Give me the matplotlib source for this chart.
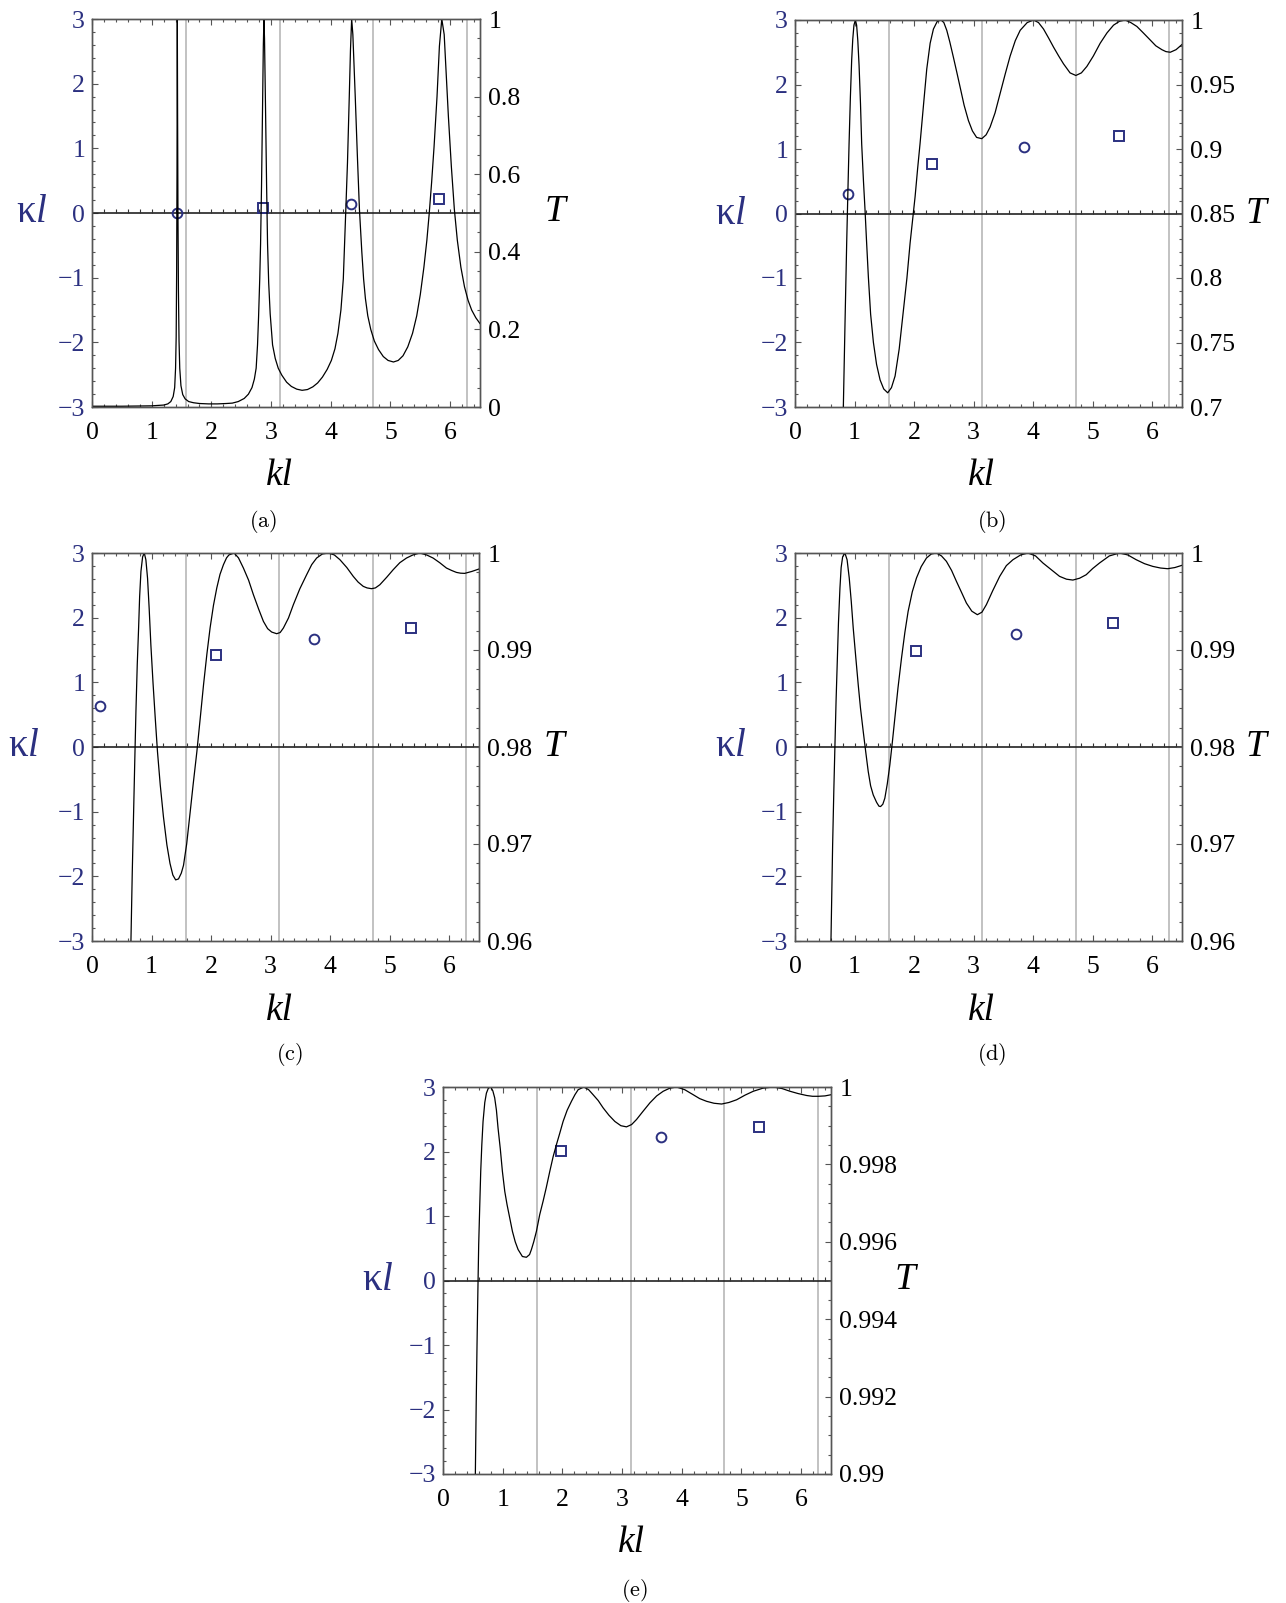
import numpy as np
import matplotlib
matplotlib.use('Agg')
import matplotlib.pyplot as plt
from matplotlib.ticker import MultipleLocator, FixedLocator, FixedFormatter

# transmission curves T(kl), one per panel
kl_a = [0.0, 0.5, 1.0, 1.1, 1.2, 1.27, 1.32, 1.36, 1.385, 1.40, 1.41, 1.418, 1.424, 1.429, 1.434,
        1.44, 1.448, 1.458, 1.47, 1.49, 1.52, 1.56, 1.62, 1.70, 1.80, 1.95, 2.1, 2.25, 2.35,
        2.45, 2.55, 2.62, 2.68, 2.72, 2.75, 2.773, 2.79, 2.81, 2.824, 2.84, 2.857, 2.87, 2.88,
        2.89, 2.907, 2.925, 2.941, 2.96, 2.985, 3.025, 3.07, 3.12, 3.18, 3.26, 3.34, 3.43, 3.52,
        3.61, 3.70, 3.78, 3.86, 3.94, 4.01, 4.07, 4.12, 4.17, 4.21, 4.25, 4.28, 4.31, 4.33, 4.35,
        4.37, 4.39, 4.41, 4.445, 4.48, 4.52, 4.55, 4.58, 4.62, 4.67, 4.73, 4.80, 4.88, 4.96, 5.05,
        5.13, 5.21, 5.29, 5.37, 5.44, 5.50, 5.56, 5.61, 5.65, 5.69, 5.73, 5.78, 5.82, 5.86, 5.90,
        5.93, 5.97, 6.02, 6.07, 6.12, 6.18, 6.24, 6.30, 6.36, 6.43, 6.5]
T_a = [0.002, 0.002, 0.003, 0.004, 0.005, 0.008, 0.014, 0.027, 0.05, 0.10, 0.18, 0.35, 0.6, 1.0,
       0.75, 0.5, 0.3, 0.17, 0.10, 0.055, 0.032, 0.021, 0.014, 0.011, 0.009, 0.008, 0.008, 0.009,
       0.010, 0.014, 0.022, 0.033, 0.05, 0.072, 0.10, 0.16, 0.23, 0.33, 0.42, 0.57, 0.77, 0.93,
       1.0, 0.95, 0.77, 0.57, 0.42, 0.32, 0.24, 0.16, 0.125, 0.10, 0.082, 0.064, 0.053, 0.046,
       0.043, 0.045, 0.052, 0.062, 0.077, 0.097, 0.12, 0.15, 0.19, 0.25, 0.33, 0.50, 0.63, 0.80,
       0.92, 1.0, 0.96, 0.88, 0.80, 0.65, 0.51, 0.40, 0.33, 0.28, 0.235, 0.20, 0.17, 0.148, 0.13,
       0.12, 0.116, 0.12, 0.132, 0.155, 0.19, 0.235, 0.29, 0.36, 0.43, 0.50, 0.58, 0.67, 0.80,
       0.93, 1.0, 0.96, 0.87, 0.75, 0.62, 0.51, 0.43, 0.36, 0.31, 0.275, 0.25, 0.23, 0.215]

kl_b = [0.76, 0.812, 0.84, 0.868, 0.89, 0.908, 0.93, 0.952, 0.97, 0.99, 1.014, 1.035, 1.055,
        1.076, 1.10, 1.12, 1.15, 1.176, 1.20, 1.232, 1.27, 1.317, 1.37, 1.429, 1.49, 1.557, 1.62,
        1.681, 1.75, 1.821, 1.88, 1.933, 1.975, 2.017, 2.06, 2.10, 2.16, 2.213, 2.27, 2.325,
        2.39, 2.454, 2.50, 2.549, 2.60, 2.661, 2.72, 2.773, 2.84, 2.913, 2.98, 3.05, 3.137, 3.21,
        3.277, 3.36, 3.445, 3.53, 3.613, 3.70, 3.782, 3.90, 4.006, 4.09, 4.174, 4.26, 4.342,
        4.43, 4.51, 4.62, 4.717, 4.81, 4.902, 5.01, 5.126, 5.24, 5.35, 5.45, 5.546, 5.64, 5.742,
        5.85, 5.966, 6.06, 6.162, 6.23, 6.303, 6.40, 6.5]
T_b = [0.60, 0.70, 0.765, 0.827, 0.87, 0.904, 0.94, 0.969, 0.985, 0.996, 1.0, 0.996, 0.984,
       0.965, 0.935, 0.904, 0.875, 0.853, 0.83, 0.801, 0.772, 0.750, 0.733, 0.721, 0.714, 0.711,
       0.715, 0.724, 0.745, 0.775, 0.80, 0.827, 0.845, 0.863, 0.885, 0.904, 0.935, 0.962, 0.982,
       0.993, 0.999, 1.0, 0.998, 0.992, 0.983, 0.971, 0.959, 0.948, 0.934, 0.922, 0.914, 0.909,
       0.908, 0.911, 0.917, 0.928, 0.943, 0.958, 0.972, 0.984, 0.992, 0.998, 1.0, 0.998, 0.993,
       0.986, 0.979, 0.972, 0.966, 0.959, 0.957, 0.959, 0.964, 0.972, 0.982, 0.990, 0.996, 0.999,
       1.0, 0.998, 0.995, 0.990, 0.9845, 0.980, 0.977, 0.9755, 0.975, 0.977, 0.981]

kl_c = [0.62, 0.654, 0.676, 0.699, 0.72, 0.738, 0.76, 0.783, 0.80, 0.822, 0.85, 0.878, 0.905,
        0.933, 0.96, 0.989, 1.025, 1.062, 1.10, 1.146, 1.20, 1.258, 1.31, 1.358, 1.405, 1.453,
        1.50, 1.537, 1.59, 1.649, 1.70, 1.761, 1.82, 1.873, 1.93, 1.984, 2.04, 2.096, 2.15, 2.208,
        2.26, 2.30, 2.387, 2.46, 2.543, 2.63, 2.711, 2.80, 2.879, 2.95, 3.018, 3.102, 3.16,
        3.214, 3.30, 3.382, 3.49, 3.605, 3.69, 3.773, 3.87, 3.969, 4.07, 4.164, 4.28, 4.388,
        4.47, 4.556, 4.62, 4.695, 4.76, 4.835, 4.95, 5.059, 5.17, 5.282, 5.39, 5.506, 5.62,
        5.729, 5.84, 5.953, 6.04, 6.121, 6.19, 6.26, 6.38, 6.5]
T_c = [0.94, 0.96, 0.967, 0.9733, 0.979, 0.9837, 0.9885, 0.9923, 0.9955, 0.9981, 0.9996, 1.0,
       0.9993, 0.9974, 0.9943, 0.9905, 0.9866, 0.9830, 0.9795, 0.9761, 0.9728, 0.9699, 0.9680,
       0.9668, 0.9663, 0.9664, 0.9670, 0.9678, 0.9700, 0.9733, 0.9762, 0.9795, 0.9831, 0.9864,
       0.9896, 0.9923, 0.9946, 0.9964, 0.9978, 0.9988, 0.9995, 0.9998, 1.0, 0.9995, 0.99845,
       0.9972, 0.9957, 0.9942, 0.99295, 0.9922, 0.99185, 0.99168, 0.9918, 0.99226, 0.9933,
       0.99467, 0.9963, 0.99776, 0.9988, 0.99948, 0.9999, 1.0, 0.9998, 0.99931, 0.9985, 0.99759,
       0.9970, 0.99656, 0.9964, 0.99632, 0.9964, 0.99673, 0.9975, 0.99828, 0.9990, 0.99948,
       0.9998, 1.0, 0.9998, 0.99948, 0.9990, 0.99845, 0.9982, 0.9980, 0.99792, 0.9979, 0.9981,
       0.99835]

kl_d = [0.58, 0.604, 0.632, 0.652, 0.671, 0.69, 0.71, 0.73, 0.755, 0.775, 0.80, 0.838, 0.875,
        0.911, 0.945, 0.978, 1.02, 1.062, 1.10, 1.146, 1.19, 1.23, 1.27, 1.314, 1.37, 1.41, 1.437,
        1.475, 1.509, 1.55, 1.593, 1.635, 1.677, 1.73, 1.789, 1.845, 1.9, 1.97, 2.04, 2.12, 2.208,
        2.29, 2.376, 2.46, 2.543, 2.63, 2.711, 2.80, 2.879, 2.97, 3.063, 3.14, 3.214, 3.32, 3.438,
        3.55, 3.661, 3.79, 3.913, 4.04, 4.164, 4.30, 4.444, 4.56, 4.667, 4.78, 4.891, 5.00,
        5.115, 5.28, 5.45, 5.59, 5.73, 5.87, 6.009, 6.14, 6.26, 6.38, 6.5]
T_d = [0.94, 0.96, 0.9699, 0.9755, 0.9802, 0.9848, 0.9888, 0.9928, 0.99639, 0.9985, 0.9996,
       1.0, 0.9993, 0.99742, 0.9950, 0.99226, 0.9893, 0.98641, 0.9840, 0.9816, 0.9794, 0.97747,
       0.9760, 0.97506, 0.9743, 0.9739, 0.97386, 0.9741, 0.97472, 0.9762, 0.97816, 0.9805,
       0.98298, 0.9861, 0.98917, 0.9918, 0.99398, 0.9960, 0.99742, 0.9986, 0.99948, 0.9999, 1.0,
       0.9997, 0.99914, 0.9982, 0.99708, 0.9959, 0.99484, 0.9940, 0.99364, 0.9939, 0.99467,
       0.9961, 0.99759, 0.9987, 0.99931, 0.9998, 1.0, 0.9997, 0.99897, 0.9983, 0.99759, 0.9973,
       0.99721, 0.9974, 0.99776, 0.9984, 0.99897, 0.9997, 1.0, 0.9998, 0.99931, 0.9989, 0.99862,
       0.99845, 0.99838, 0.9985, 0.99873]

kl_e = [0.52, 0.542, 0.556, 0.570, 0.584, 0.598, 0.615, 0.632, 0.65, 0.671, 0.70, 0.727, 0.76,
        0.799, 0.835, 0.866, 0.895, 0.922, 0.96, 0.995, 1.035, 1.073, 1.12, 1.163, 1.21, 1.258,
        1.33, 1.397, 1.45, 1.481, 1.52, 1.565, 1.62, 1.677, 1.73, 1.789, 1.845, 1.9, 1.955, 2.012,
        2.08, 2.152, 2.21, 2.264, 2.359, 2.44, 2.515, 2.60, 2.683, 2.78, 2.879, 2.98, 3.074, 3.16,
        3.242, 3.35, 3.466, 3.58, 3.689, 3.80, 3.913, 4.05, 4.192, 4.30, 4.416, 4.54, 4.667,
        4.79, 4.919, 5.06, 5.198, 5.36, 5.534, 5.68, 5.813, 5.95, 6.093, 6.19, 6.288, 6.40, 6.5]
T_e = [0.985, 0.99, 0.9918, 0.99334, 0.9947, 0.99593, 0.9969, 0.99782, 0.9985, 0.99911, 0.9996,
       0.99984, 0.99997, 1.0, 0.9999, 0.99972, 0.9994, 0.99894, 0.9984, 0.99782, 0.9973, 0.99696,
       0.9966, 0.99627, 0.9960, 0.9958, 0.99562, 0.9956, 0.99567, 0.9958, 0.9960, 0.99627,
       0.9967, 0.99705, 0.9974, 0.99782, 0.9982, 0.99851, 0.9988, 0.99911, 0.9994, 0.99963,
       0.9998, 0.99993, 1.0, 0.99993, 0.9998, 0.99965, 0.99946, 0.99927, 0.99911, 0.999, 0.99897,
       0.99903, 0.99916, 0.99937, 0.99959, 0.99977, 0.99989, 0.99997, 1.0, 0.99993, 0.9998,
       0.9997, 0.99963, 0.99958, 0.99956, 0.9996, 0.99967, 0.99979, 0.99989, 0.99997, 1.0,
       0.99996, 0.99989, 0.99983, 0.99978, 0.99976, 0.99976, 0.99977, 0.9998]

# kappa*l of the bound/resonant states (circles and squares)
circ_a = ([1.429, 4.34], [0.0, 0.14])
sq_a = ([2.87, 5.82], [0.07, 0.21])
circ_b = ([0.885, 3.85], [0.30, 1.03])
sq_b = ([2.30, 5.44], [0.76, 1.20])
circ_c = ([0.14, 3.73], [0.63, 1.67])
sq_c = ([2.08, 5.35], [1.42, 1.84])
circ_d = ([3.71], [1.74])
sq_d = ([2.04, 5.34], [1.49, 1.91])
circ_e = ([3.66], [2.22])
sq_e = ([1.97, 5.30], [2.01, 2.38])

# right-axis tick values
T_ticks_a = [0, 0.2, 0.4, 0.6, 0.8, 1]
T_ticks_b = [0.7, 0.75, 0.8, 0.85, 0.9, 0.95, 1]
T_ticks_c = [0.96, 0.97, 0.98, 0.99, 1]
T_ticks_d = [0.96, 0.97, 0.98, 0.99, 1]
T_ticks_e = [0.99, 0.992, 0.994, 0.996, 0.998, 1]

ref_lines = [np.pi / 2, np.pi, 3 * np.pi / 2, 2 * np.pi]

plt.rcParams['font.family'] = ['Liberation Serif', 'DejaVu Serif']
plt.rcParams['mathtext.fontset'] = 'custom'
plt.rcParams['mathtext.rm'] = 'Liberation Serif'
plt.rcParams['mathtext.it'] = 'Liberation Serif:italic'

W, H = 1286, 1603
BLUE = '#2b3080'
FRAME = '#555555'

fig = plt.figure(figsize=(W / 100, H / 100), dpi=100)


def panel(box, kl, T, t_ticks, t_minor, circ, sq, kappa_pos, T_pos, kl_pos, cap_pos, cap):
    x0, y0, x1, y1 = box
    ax = fig.add_axes([x0 / W, 1 - y1 / H, (x1 - x0) / W, (y1 - y0) / H])
    ax.set_xlim(0, 6.5)
    ax.set_ylim(-3, 3)
    ax.xaxis.set_major_locator(MultipleLocator(1))
    ax.xaxis.set_minor_locator(MultipleLocator(0.2))
    ax.yaxis.set_major_locator(MultipleLocator(1))
    ax.yaxis.set_minor_locator(MultipleLocator(0.2))
    ax.tick_params(which='both', direction='in', top=True, right=False, width=0.8,
                   color=FRAME, labelsize=18.5)
    ax.tick_params(which='major', length=4)
    ax.tick_params(which='minor', length=2.5)
    ax.tick_params(axis='x', pad=11)
    ax.tick_params(axis='y', pad=5, labelcolor=BLUE)
    for v in ref_lines:
        ax.axvline(v, color='#bdbdbd', lw=1.3, zorder=1)
    ax.axhline(0, color='#222222', lw=1.2, zorder=2)
    # small ticks along the kappa = 0 axis
    xt = np.arange(0, 6.51, 0.2)
    ax.plot(xt, np.zeros_like(xt), ls='none', marker=2, ms=3, mew=0.8, color='#333333', zorder=2)
    ax.plot(circ[0], circ[1], ls='none', marker='o', ms=7, mfc='none', mec=BLUE, mew=1.4,
            zorder=3)
    ax.plot(sq[0], sq[1], ls='none', marker='s', ms=6.5, mfc='none', mec=BLUE, mew=1.4, zorder=3)

    ax2 = ax.twinx()
    ax2.set_ylim(t_ticks[0], 1)
    ax2.yaxis.set_major_locator(FixedLocator(t_ticks))
    ax2.yaxis.set_major_formatter(FixedFormatter(['%g' % t for t in t_ticks]))
    ax2.yaxis.set_minor_locator(MultipleLocator(t_minor))
    ax2.tick_params(which='both', direction='in', width=0.8, color=FRAME, labelsize=18.5, pad=6)
    ax2.tick_params(which='major', length=4)
    ax2.tick_params(which='minor', length=2.5)
    ax2.plot(kl, T, color='black', lw=0.9)

    for a in (ax, ax2):
        for s in a.spines.values():
            s.set_color(FRAME)
            s.set_linewidth(1.0)

    fig.text(kappa_pos[0] / W, 1 - kappa_pos[1] / H, r'$\mathrm{κ}l$', color=BLUE,
             fontsize=28, ha='center', va='center')
    fig.text(T_pos[0] / W, 1 - T_pos[1] / H, 'T', style='italic', fontsize=27,
             ha='center', va='center')
    fig.text(kl_pos[0] / W, 1 - kl_pos[1] / H, 'kl', style='italic', fontsize=27,
             ha='center', va='center')
    fig.text(cap_pos[0] / W, 1 - cap_pos[1] / H, r'$\mathrm{(%s)}$' % cap, math_fontfamily='cm',
             fontsize=16, ha='center', va='center')


panel((92, 19, 480, 407), kl_a, T_a, T_ticks_a, 0.05, circ_a, sq_a,
      (32, 212), (555, 212), (279, 476), (263, 521), 'a')
panel((795, 20, 1182, 407), kl_b, T_b, T_ticks_b, 0.01, circ_b, sq_b,
      (731, 214), (1256, 214), (981, 476), (992, 521), 'b')
panel((92, 553, 479, 941), kl_c, T_c, T_ticks_c, 0.002, circ_c, sq_c,
      (24, 747), (554, 747), (279, 1011), (289, 1055), 'c')
panel((795, 553, 1182, 941), kl_d, T_d, T_ticks_d, 0.002, circ_d, sq_d,
      (731, 747), (1256, 747), (981, 1011), (992, 1055), 'd')
panel((443, 1087, 831, 1474), kl_e, T_e, T_ticks_e, 0.0005, circ_e, sq_e,
      (378, 1280), (905, 1280), (631, 1543), (634, 1590), 'e')

fig.savefig('out.png', dpi=100)
